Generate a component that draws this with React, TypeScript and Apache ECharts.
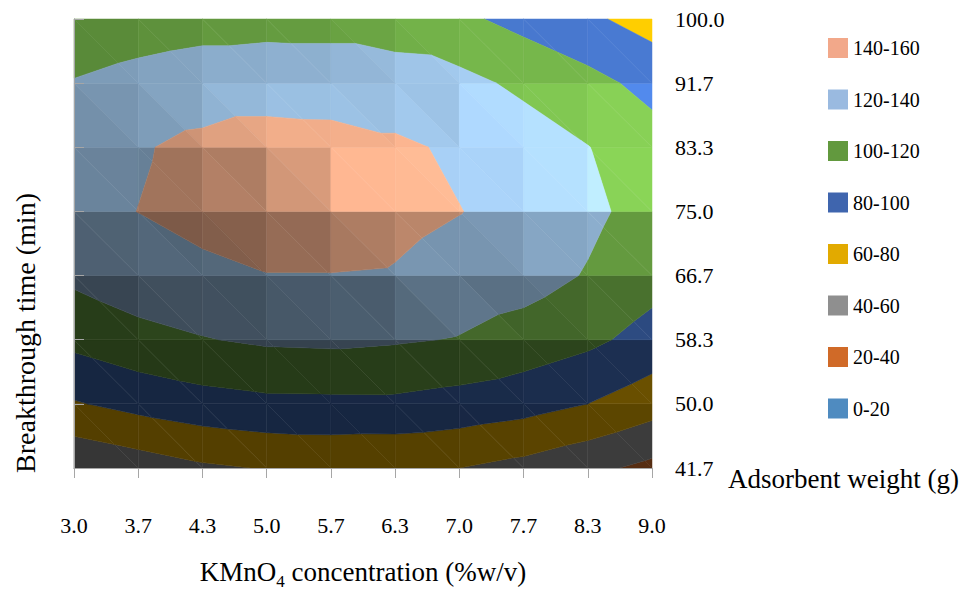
import React, { useEffect, useRef } from "react";
import * as echarts from "echarts";

// Tick labels of the two axes
const concentrationLabels = ["3.0", "3.7", "4.3", "5.0", "5.7", "6.3", "7.0", "7.7", "8.3", "9.0"];
const weightLabels = ["41.7", "50.0", "58.3", "66.7", "75.0", "83.3", "91.7", "100.0"];

// Breakthrough time surface, one row per adsorbent weight (41.7 g → 100.0 g),
// one value per KMnO4 concentration (3.0 → 9.0 %w/v)
const row41_7 = [42, 49.3, 57, 61, 63, 62, 60, 53.9, 45, 34.9];
const row50_0 = [78.4, 86.2, 92.2, 95.5, 95.8, 96, 92.3, 87.8, 80, 68.8];
const row58_3 = [105.4, 113.8, 119, 123, 124, 122, 119, 112.2, 104.4, 92.6];
const row66_7 = [124, 131.4, 135, 139.5, 139.5, 138.5, 132, 127.8, 118.7, 107.4];
const row75_0 = [134, 140.2, 147, 150, 151, 145.7, 140.5, 133, 124, 113];
const row83_3 = [131, 138, 145.6, 152, 150, 143.8, 136.5, 130, 120.5, 108.3];
const row91_7 = [120.8, 124.5, 127, 127, 126.5, 126.5, 125.5, 116, 106.1, 94];
const row100_0 = [110, 113, 115, 116, 116, 113, 104, 93.7, 83.6, 72];

// Contour bands
const bandLabels = ["0-20", "20-40", "40-60", "60-80", "80-100", "100-120", "120-140", "140-160"];
const bandLower = [0, 20, 40, 60, 80, 100, 120, 140];
const bandUpper = [20, 40, 60, 80, 100, 120, 140, 160];
const surfaceColors = ["#5B9BD5", "#ED7D31", "#A5A5A5", "#FFC000", "#4472C4", "#70AD47", "#9DC3E6", "#F5B08C"];
const legendColors = ["#4F8BC0", "#D06A28", "#8F8F8F", "#E2AA00", "#3F65AE", "#62993E", "#9ABAE0", "#F2A88A"];

const surface = [row41_7, row50_0, row58_3, row66_7, row75_0, row83_3, row91_7, row100_0];

const FONT = "Liberation Serif";
const AXIS_GREY = "#A6A6A6";

// Lighting response of the surface facets (slope up the grid → brightness, sideways sensitivity)
const lightSlopeUp = [-25, -10, -1, 1, 4, 11, 16, 20, 30];
const lightBase = [0.98, 0.89, 0.87, 0.85, 0.68, 0.62, 0.46, 0.38, 0.33];
const sideSlopeUp = [-25, -20, -14, -10, 0, 5, 11, 15, 20, 30];
const sideGain = [0.006, 0.012, 0.025, 0.03, 0.03, 0.02, 0.02, 0.012, 0.006, 0.003];

type P = { x: number; y: number; v: number };

function lerpTable(xs: number[], ys: number[], x: number): number {
  if (x <= xs[0]) return ys[0];
  for (let k = 1; k < xs.length; k++) {
    if (x <= xs[k]) {
      const t = (x - xs[k - 1]) / (xs[k] - xs[k - 1]);
      return ys[k - 1] + t * (ys[k] - ys[k - 1]);
    }
  }
  return ys[ys.length - 1];
}

// Keep the part of a polygon lying above (or below) a level, interpolating linearly
function clipLevel(poly: P[], level: number, keepAbove: boolean): P[] {
  const out: P[] = [];
  const inside = (q: P) => (keepAbove ? q.v >= level : q.v <= level);
  for (let k = 0; k < poly.length; k++) {
    const a = poly[k];
    const b = poly[(k + 1) % poly.length];
    const ia = inside(a);
    const ib = inside(b);
    if (ia) out.push(a);
    if (ia !== ib) {
      const t = (level - a.v) / (b.v - a.v);
      out.push({ x: a.x + t * (b.x - a.x), y: a.y + t * (b.y - a.y), v: level });
    }
  }
  return out;
}

// Rising faces are shaded, faces turned to the upper right are lit
function lightFactor(gx: number, gy: number): number {
  const b = lerpTable(lightSlopeUp, lightBase, gy) - lerpTable(sideSlopeUp, sideGain, gy) * gx;
  return Math.min(1.25, Math.max(0.33, b));
}

function shade(hex: string, f: number): string {
  const r = parseInt(hex.slice(1, 3), 16);
  const g = parseInt(hex.slice(3, 5), 16);
  const b = parseInt(hex.slice(5, 7), 16);
  const c = (x: number) => Math.max(0, Math.min(255, Math.round(x * f)));
  return `rgb(${c(r)},${c(g)},${c(b)})`;
}

const cells: number[][] = [];
for (let j = 0; j < weightLabels.length - 1; j++) {
  for (let i = 0; i < concentrationLabels.length - 1; i++) cells.push([i, j]);
}

function bandRenderer(band: number) {
  const lo = bandLower[band];
  const hi = bandUpper[band];
  return (_params: any, api: any) => {
    const i = api.value(0);
    const j = api.value(1);
    const pt = (ii: number, jj: number): P => {
      const c = api.coord([ii, jj]);
      return { x: c[0], y: c[1], v: surface[jj][ii] };
    };
    const BL = pt(i, j);
    const BR = pt(i + 1, j);
    const TL = pt(i, j + 1);
    const TR = pt(i + 1, j + 1);
    const cgx = (TR.v - TL.v + BR.v - BL.v) / 2;
    const cgy = (TL.v - BL.v + TR.v - BR.v) / 2;
    const w = 0.2;
    const facets = [
      { pts: [TL, TR, BR], gx: TR.v - TL.v, gy: TR.v - BR.v },
      { pts: [TL, BR, BL], gx: BR.v - BL.v, gy: TL.v - BL.v },
    ];
    const children: any[] = [];
    for (const f of facets) {
      let poly = clipLevel(f.pts, lo, true);
      poly = clipLevel(poly, hi, false);
      if (poly.length < 3) continue;
      const gx = (1 - w) * cgx + w * f.gx;
      const gy = (1 - w) * cgy + w * f.gy;
      const fill = shade(surfaceColors[band], lightFactor(gx, gy));
      children.push({
        type: "polygon",
        shape: { points: poly.map((q) => [q.x, q.y]) },
        style: { fill, stroke: fill, lineWidth: 0.5 },
      });
    }
    return { type: "group", children };
  };
}

export default function App() {
  const ref = useRef<HTMLDivElement>(null);

  useEffect(() => {
    if (!ref.current) return;
    const chart = echarts.init(ref.current, null, { renderer: "svg" });

    const series = bandLabels.map((name, band) => ({
      name,
      type: "custom",
      coordinateSystem: "cartesian2d",
      xAxisIndex: 0,
      yAxisIndex: 0,
      silent: true,
      z: 2,
      itemStyle: { color: legendColors[band] },
      encode: { x: 0, y: 1 },
      data: cells,
      renderItem: bandRenderer(band),
    }));

    chart.setOption({
      animation: false,
      backgroundColor: "#ffffff",
      textStyle: { fontFamily: FONT, color: "#000" },
      grid: { left: 74, right: 313, top: 19, bottom: 114, containLabel: false },
      legend: {
        orient: "vertical",
        left: 823,
        top: 33,
        itemWidth: 20,
        itemHeight: 20,
        itemGap: 31.5,
        icon: "rect",
        selectedMode: false,
        data: [...bandLabels].reverse(),
        textStyle: { fontFamily: FONT, fontSize: 20, color: "#000" },
      },
      xAxis: [
        {
          type: "value",
          position: "bottom",
          min: 0,
          max: concentrationLabels.length - 1,
          interval: 1,
          z: 10,
          axisLine: { show: true, lineStyle: { color: AXIS_GREY, width: 1 } },
          axisTick: { show: true, length: 10, lineStyle: { color: AXIS_GREY } },
          splitLine: { show: false },
          axisLabel: {
            formatter: (v: number) => concentrationLabels[v] ?? "",
            fontFamily: FONT,
            fontSize: 22,
            color: "#000",
            margin: 46,
          },
          name: "KMnO{sub|4} concentration (%w/v)",
          nameLocation: "middle",
          nameGap: 86,
          nameTextStyle: {
            fontFamily: FONT,
            fontSize: 27,
            color: "#000",
            lineHeight: 36,
            rich: {
              sub: { fontFamily: FONT, fontSize: 17, color: "#000", lineHeight: 17, verticalAlign: "bottom" },
            },
          },
        },
        {
          type: "value",
          position: "top",
          min: 0,
          max: concentrationLabels.length - 1,
          z: 10,
          axisLine: { show: true, lineStyle: { color: AXIS_GREY, width: 1 } },
          axisTick: { show: false },
          axisLabel: { show: false },
          splitLine: { show: false },
        },
      ],
      yAxis: [
        {
          type: "value",
          position: "right",
          min: 0,
          max: weightLabels.length - 1,
          interval: 1,
          z: 10,
          axisLine: { show: true, lineStyle: { color: AXIS_GREY, width: 1 } },
          axisTick: { show: true, length: 10, lineStyle: { color: AXIS_GREY } },
          splitLine: { show: false },
          axisLabel: {
            formatter: (v: number) => weightLabels[v] ?? "",
            fontFamily: FONT,
            fontSize: 22,
            color: "#000",
            margin: 23,
          },
        },
        {
          type: "value",
          position: "left",
          min: 0,
          max: weightLabels.length - 1,
          z: 10,
          axisLine: { show: true, lineStyle: { color: AXIS_GREY, width: 1 } },
          axisTick: { show: false },
          axisLabel: { show: false },
          splitLine: { show: false },
        },
      ],
      graphic: [
        {
          type: "text",
          x: 25,
          y: 333,
          rotation: Math.PI / 2,
          style: {
            text: "Breakthrough time (min)",
            fontFamily: FONT,
            fontSize: 28,
            fill: "#000",
            align: "center",
            verticalAlign: "middle",
          },
        },
        {
          type: "text",
          x: 728,
          y: 479,
          style: {
            text: "Adsorbent weight (g)",
            fontFamily: FONT,
            fontSize: 27,
            fill: "#000",
            align: "left",
            verticalAlign: "middle",
          },
        },
      ],
      series,
    });

    return () => chart.dispose();
  }, []);

  return (
    <div
      ref={ref}
      style={{ position: "fixed", left: 0, top: 0, width: 965, height: 595, background: "#fff" }}
    />
  );
}
